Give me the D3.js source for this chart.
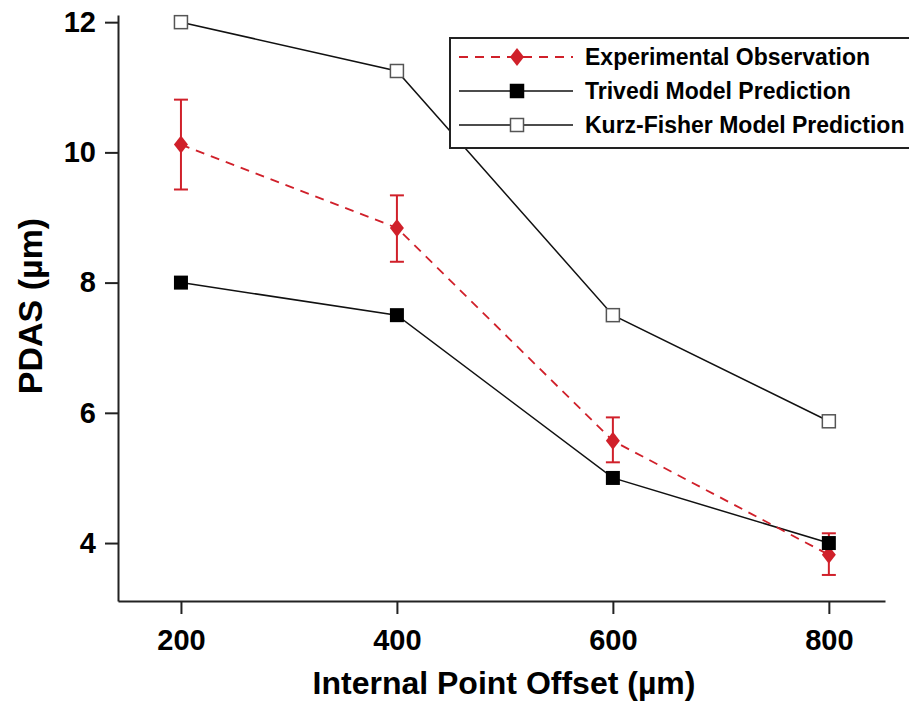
<!DOCTYPE html>
<html>
<head>
<meta charset="utf-8">
<script src="https://cdn.jsdelivr.net/npm/d3@7"></script>
<style>
  body { margin: 0; background: #fff; }
  svg { font-family: "Liberation Sans", Arial, sans-serif; }
</style>
</head>
<body>
<div id="chart-area"></div>
<script>
// data
var offsets = [200, 400, 600, 800];
var expMean = [10.12, 8.84, 5.57, 3.82];
var expLow = [9.43, 8.32, 5.24, 3.51];
var expHigh = [10.81, 9.34, 5.93, 4.15];
var trivedi = [8, 7.5, 5, 4];
var kurzFisher = [12, 11.25, 7.5, 5.87];
var yTicks = [4, 6, 8, 10, 12];
var xTicks = [200, 400, 600, 800];
var legendLabels = ["Experimental Observation", "Trivedi Model Prediction", "Kurz-Fisher Model Prediction"];

var width = 909, height = 702;
var red = "#d0202a";

var svg = d3.select("#chart-area").append("svg")
	.attr("width", width)
	.attr("height", height);

var x = d3.scaleLinear().domain([141.7, 852]).range([118, 885]);
var y = d3.scaleLinear().domain([3.11, 12.11]).range([601, 15]);

// axes
var leftAxis = d3.axisLeft(y).tickValues(yTicks).tickSize(13).tickPadding(9).tickSizeOuter(0);
var gy = svg.append("g")
	.attr("transform", "translate(118,0)")
	.call(leftAxis);
gy.selectAll("text")
	.attr("font-size", "29px")
	.attr("font-weight", "bold")
	.attr("font-family", "Liberation Sans, Arial, sans-serif")
	.attr("fill", "#000");

var bottomAxis = d3.axisBottom(x).tickValues(xTicks).tickSize(13).tickPadding(15).tickSizeOuter(0);
var gx = svg.append("g")
	.attr("transform", "translate(0,601)")
	.call(bottomAxis);
gx.selectAll("text")
	.attr("font-size", "29px")
	.attr("font-weight", "bold")
	.attr("font-family", "Liberation Sans, Arial, sans-serif")
	.attr("fill", "#000");

svg.selectAll(".domain, .tick line").attr("stroke", "#222").attr("stroke-width", 2);

// axis labels
svg.append("text")
	.attr("x", 504)
	.attr("y", 694)
	.attr("text-anchor", "middle")
	.attr("font-size", "32px")
	.attr("font-weight", "bold")
	.attr("fill", "#000")
	.text("Internal Point Offset (µm)");

svg.append("text")
	.attr("transform", "translate(42,306) rotate(-90)")
	.attr("text-anchor", "middle")
	.attr("font-size", "34px")
	.attr("font-weight", "600")
	.attr("fill", "#000")
	.text("PDAS (µm)");

var line = d3.line()
	.x(function(d, i) { return x(offsets[i]); })
	.y(function(d) { return y(d); });

// Kurz-Fisher
svg.append("path").datum(kurzFisher)
	.attr("d", line).attr("fill", "none").attr("stroke", "#111").attr("stroke-width", 1.5);
// Trivedi
svg.append("path").datum(trivedi)
	.attr("d", line).attr("fill", "none").attr("stroke", "#111").attr("stroke-width", 1.5);
// Experimental
svg.append("path").datum(expMean)
	.attr("d", line).attr("fill", "none").attr("stroke", red)
	.attr("stroke-width", 1.8).attr("stroke-dasharray", "9,7");

// error bars
var eb = svg.append("g").attr("stroke", red).attr("stroke-width", 2);
offsets.forEach(function(o, i) {
	var cx = x(o);
	eb.append("line").attr("x1", cx).attr("x2", cx).attr("y1", y(expHigh[i])).attr("y2", y(expLow[i]));
	eb.append("line").attr("x1", cx - 7).attr("x2", cx + 7).attr("y1", y(expHigh[i])).attr("y2", y(expHigh[i]));
	eb.append("line").attr("x1", cx - 7).attr("x2", cx + 7).attr("y1", y(expLow[i])).attr("y2", y(expLow[i]));
});

var diamond = "M0,-9 L7,0 L0,9 L-7,0 Z";

svg.selectAll(".exp-pt").data(expMean).enter().append("path")
	.attr("class", "exp-pt")
	.attr("d", diamond)
	.attr("transform", function(d, i) { return "translate(" + x(offsets[i]) + "," + y(d) + ")"; })
	.attr("fill", red);

svg.selectAll(".kf-pt").data(kurzFisher).enter().append("rect")
	.attr("class", "kf-pt")
	.attr("x", function(d, i) { return x(offsets[i]) - 6.5; })
	.attr("y", function(d) { return y(d) - 6.5; })
	.attr("width", 13).attr("height", 13)
	.attr("fill", "#fff").attr("stroke", "#555").attr("stroke-width", 1.5);

svg.selectAll(".tr-pt").data(trivedi).enter().append("rect")
	.attr("class", "tr-pt")
	.attr("x", function(d, i) { return x(offsets[i]) - 7; })
	.attr("y", function(d) { return y(d) - 7; })
	.attr("width", 14).attr("height", 14)
	.attr("fill", "#000");

// legend
var lg = svg.append("g");
lg.append("rect")
	.attr("x", 450).attr("y", 38).attr("width", 460).attr("height", 110)
	.attr("fill", "#fff").attr("stroke", "#222").attr("stroke-width", 2);

var rowY = [57, 91, 125];
legendLabels.forEach(function(lab, i) {
	var ly = rowY[i];
	var ln = lg.append("line").attr("x1", 459).attr("x2", 573).attr("y1", ly).attr("y2", ly);
	if (i === 0) {
		ln.attr("stroke", red).attr("stroke-width", 1.8).attr("stroke-dasharray", "9,7");
		lg.append("path").attr("d", diamond).attr("transform", "translate(517," + ly + ")").attr("fill", red);
	} else {
		ln.attr("stroke", "#111").attr("stroke-width", 1.5);
		lg.append("rect")
			.attr("x", 517 - 6.5).attr("y", ly - 6.5).attr("width", 13).attr("height", 13)
			.attr("fill", i === 1 ? "#000" : "#fff")
			.attr("stroke", i === 1 ? "#000" : "#555").attr("stroke-width", 1.5);
	}
	lg.append("text")
		.attr("x", 585).attr("y", ly + 8)
		.attr("font-size", "23px").attr("font-weight", "bold")
		.attr("fill", "#000")
		.text(lab);
});
</script>
</body>
</html>
